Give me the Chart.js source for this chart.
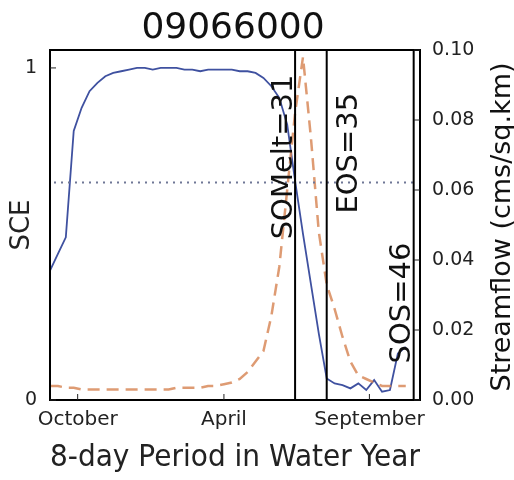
<!DOCTYPE html>
<html>
<head>
<meta charset="utf-8">
<script src="https://cdn.jsdelivr.net/npm/chart.js@4.4.0/dist/chart.umd.min.js"></script>
<style>
  html, body { margin: 0; padding: 0; background: #fff; }
  #wrap { width: 514px; height: 480px; }
</style>
</head>
<body>
<div id="wrap"><canvas id="myChart" width="514" height="480"></canvas></div>
<script>
// texts
const stationId = '09066000';
const xTitle = '8-day Period in Water Year';
const sceTitle = 'SCE';
const flowTitle = 'Streamflow (cms/sq.km)';

// month ticks (position in 8-day periods) and their labels
const monthTicks = [3.5, 22, 40.4];
const monthLabels = ['October', 'April', 'September'];

// snow cover extent, one value per 8-day period (period 0..45)
const sce = [
  0.39, 0.44, 0.49, 0.81, 0.88, 0.93, 0.955, 0.975, 0.985, 0.99,
  0.995, 1.0, 1.0, 0.995, 1.0, 1.0, 1.0, 0.995, 0.995, 0.99,
  0.995, 0.995, 0.995, 0.995, 0.99, 0.99, 0.985, 0.97, 0.945, 0.91,
  0.83, 0.66, 0.50, 0.35, 0.20, 0.065, 0.05, 0.045, 0.035, 0.05,
  0.03, 0.06, 0.025, 0.03, 0.14, 0.16
];

// streamflow in cms/sq.km, same periods
const flow = [
  0.004, 0.004, 0.0035, 0.0035, 0.003, 0.003, 0.003, 0.003, 0.003, 0.003,
  0.003, 0.003, 0.003, 0.003, 0.003, 0.003, 0.0035, 0.0035, 0.0035, 0.0035,
  0.004, 0.004, 0.0045, 0.005, 0.006, 0.008, 0.011, 0.014, 0.024, 0.038,
  0.06, 0.082, 0.098, 0.075, 0.048, 0.033, 0.026, 0.018, 0.011, 0.007,
  0.006, 0.005, 0.004, 0.004, 0.004, 0.004
];

// events (period numbers)
const eventNames = ['SOMelt', 'EOS', 'SOS'];
const eventPeriods = [31, 35, 46];
const sceThreshold = 0.655;

const FONT = "'DejaVu Sans', sans-serif";
Chart.defaults.font.family = FONT;
Chart.defaults.color = '#222';

// frame, threshold, event lines, labels, inner ticks, title
const decor = {
  id: 'decor',
  afterDatasetsDraw(chart) {
    const { ctx, chartArea: a, scales } = chart;
    const x = scales.x, y = scales.y, y2 = scales.y2;
    ctx.save();

    // dotted threshold
    const ty = y.getPixelForValue(sceThreshold);
    ctx.strokeStyle = '#6f7796';
    ctx.lineWidth = 2;
    ctx.setLineDash([2, 5]);
    ctx.beginPath();
    ctx.moveTo(a.left + 4, ty);
    ctx.lineTo(a.right - 2, ty);
    ctx.stroke();
    ctx.setLineDash([]);

    // event lines
    ctx.strokeStyle = '#000';
    ctx.lineWidth = 2;
    eventPeriods.forEach(p => {
      const px = x.getPixelForValue(p);
      ctx.beginPath();
      ctx.moveTo(px, a.top);
      ctx.lineTo(px, a.bottom);
      ctx.stroke();
    });

    // event labels, rotated
    ctx.fillStyle = '#111';
    ctx.font = '29px ' + FONT;
    ctx.textBaseline = 'alphabetic';
    const lab = (i, dx, v, align) => {
      ctx.save();
      ctx.translate(x.getPixelForValue(eventPeriods[i]) + dx, y.getPixelForValue(v));
      ctx.rotate(-Math.PI / 2);
      ctx.textAlign = align;
      ctx.fillText(eventNames[i] + '=' + eventPeriods[i], 0, 0);
      ctx.restore();
    };
    lab(0, -3, 0.98, 'right');
    lab(1, 30, 0.925, 'right');
    lab(2, -4, 0.11, 'left');

    // frame
    ctx.strokeStyle = '#000';
    ctx.lineWidth = 2;
    ctx.strokeRect(a.left, a.top, a.right - a.left, a.bottom - a.top);

    // inner ticks
    ctx.lineWidth = 1;
    ctx.strokeStyle = '#222';
    ctx.beginPath();
    monthTicks.forEach(v => {
      const px = x.getPixelForValue(v);
      ctx.moveTo(px, a.bottom);
      ctx.lineTo(px, a.bottom - 6);
    });
    [0, 1].forEach(v => {
      const py = y.getPixelForValue(v);
      ctx.moveTo(a.left, py);
      ctx.lineTo(a.left + 6, py);
    });
    y2.ticks.forEach(t => {
      const py = y2.getPixelForValue(t.value);
      ctx.moveTo(a.right, py);
      ctx.lineTo(a.right - 6, py);
    });
    ctx.stroke();

    // title
    ctx.fillStyle = '#111';
    ctx.font = '36px ' + FONT;
    ctx.textAlign = 'center';
    ctx.textBaseline = 'alphabetic';
    ctx.fillText(stationId, (a.left + a.right) / 2 - 2, 38);

    // right axis title, reading upwards
    ctx.save();
    ctx.font = '27px ' + FONT;
    ctx.translate(510, (a.top + a.bottom) / 2 + 2);
    ctx.rotate(-Math.PI / 2);
    ctx.textAlign = 'center';
    ctx.fillText(flowTitle, 0, 0);
    ctx.restore();

    ctx.restore();
  }
};

const ctx = document.getElementById('myChart').getContext('2d');
const chart = new Chart(ctx, {
  type: 'line',
  data: {
    datasets: [
      {
        label: 'Streamflow',
        data: flow.map((v, i) => ({ x: i, y: v })),
        yAxisID: 'y2',
        borderColor: 'rgba(214,130,80,0.8)',
        borderWidth: 2.5,
        borderDash: [12, 7],
        pointRadius: 0,
        fill: false,
        tension: 0
      },
      {
        label: 'SCE',
        data: sce.map((v, i) => ({ x: i, y: v })),
        yAxisID: 'y',
        borderColor: '#3f51a0',
        borderWidth: 1.8,
        pointRadius: 0,
        fill: false,
        tension: 0
      }
    ]
  },
  options: {
    responsive: false,
    animation: false,
    layout: { padding: { top: 50, left: 0, right: 0, bottom: 0 } },
    plugins: {
      legend: { display: false },
      tooltip: { enabled: false },
      title: { display: false }
    },
    scales: {
      x: {
        type: 'linear',
        min: 0,
        max: 46.8,
        grid: { display: false, drawTicks: false },
        border: { display: false },
        afterBuildTicks: s => { s.ticks = monthTicks.map(v => ({ value: v })); },
        ticks: {
          autoSkip: false,
          maxRotation: 0,
          padding: 8,
          font: { size: 20 },
          callback: (v, i) => monthLabels[i]
        },
        title: { display: true, text: xTitle, font: { size: 30 }, padding: { top: 0, bottom: 4 } },
        afterFit: s => { s.height = 80; }
      },
      y: {
        position: 'left',
        min: 0,
        max: 1.054,
        grid: { display: false, drawTicks: false },
        border: { display: false },
        afterBuildTicks: s => { s.ticks = [{ value: 0 }, { value: 1 }]; },
        ticks: { padding: 13, font: { size: 19 }, callback: v => String(v) },
        title: { display: true, text: sceTitle, font: { size: 26 }, padding: { top: 7, bottom: 0 } },
        afterFit: s => { s.width = 50; }
      },
      y2: {
        position: 'right',
        min: 0,
        max: 0.1,
        grid: { display: false, drawTicks: false },
        border: { display: false },
        ticks: { stepSize: 0.02, padding: 12, font: { size: 19 }, callback: v => v.toFixed(2) },
        afterFit: s => { s.width = 94; }
      }
    }
  },
  plugins: [decor]
});
</script>
</body>
</html>
